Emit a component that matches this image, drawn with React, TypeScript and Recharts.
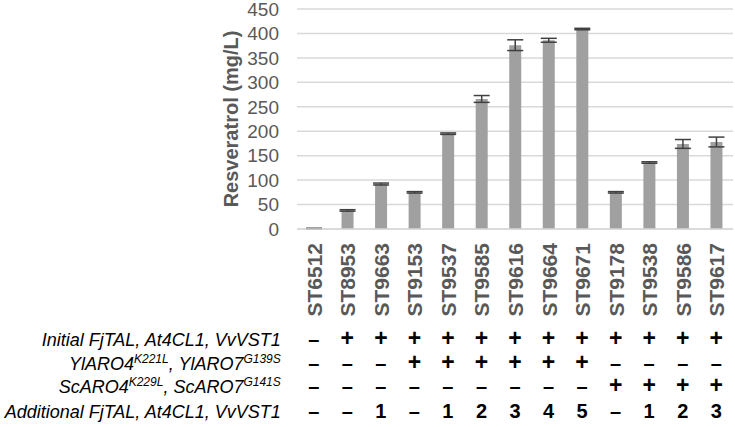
import React from 'react';
import { BarChart, Bar, XAxis, YAxis, CartesianGrid, ErrorBar, Label } from 'recharts';

document.body.style.margin = '0';

const strains = [
  'ST6512', 'ST8953', 'ST9663', 'ST9153', 'ST9537', 'ST9585', 'ST9616',
  'ST9664', 'ST9671', 'ST9178', 'ST9538', 'ST9586', 'ST9617'
];
const resveratrol = [1, 38, 92, 75, 195, 266, 376, 386, 409, 75, 136, 174, 178];
const errors = [0.5, 1.5, 2, 1.5, 1.5, 7, 11, 4, 1.5, 1.5, 1.5, 9, 10];

// table rows under the strains
const initialGenes = ['–', '+', '+', '+', '+', '+', '+', '+', '+', '+', '+', '+', '+'];
const ylAro = ['–', '–', '–', '+', '+', '+', '+', '+', '+', '–', '–', '–', '–'];
const scAro = ['–', '–', '–', '–', '–', '–', '–', '–', '–', '+', '+', '+', '+'];
const additionalGenes = ['–', '–', '1', '–', '1', '2', '3', '4', '5', '–', '1', '2', '3'];

const yTicks = [0, 50, 100, 150, 200, 250, 300, 350, 400, 450];

const chartData = strains.map((name, i) => ({
  name,
  value: resveratrol[i],
  err: errors[i],
}));

const FONT = 'Arial, "Liberation Sans", sans-serif';
const GRAY = '#595959';

const rows = [initialGenes, ylAro, scAro, additionalGenes];
const rowOffsets = [117, 141, 164, 189];

const RowLabels = ({ x, y }: { x: number; y: number }) => {
  const common = { x, textAnchor: 'end' as const, fontFamily: FONT, fontSize: 18, fontStyle: 'italic', fill: '#000' };
  return (
    <g>
      <text {...common} y={y + rowOffsets[0]}>Initial FjTAL, At4CL1, VvVST1</text>
      <text {...common} y={y + rowOffsets[1]}>
        <tspan>YlARO4</tspan>
        <tspan fontSize={12} dy={-7}>K221L</tspan>
        <tspan dy={7}>, YlARO7</tspan>
        <tspan fontSize={12} dy={-7}>G139S</tspan>
      </text>
      <text {...common} y={y + rowOffsets[2]}>
        <tspan>ScARO4</tspan>
        <tspan fontSize={12} dy={-7}>K229L</tspan>
        <tspan dy={7}>, ScARO7</tspan>
        <tspan fontSize={12} dy={-7}>G141S</tspan>
      </text>
      <text {...common} y={y + rowOffsets[3]}>Additional FjTAL, At4CL1, VvVST1</text>
    </g>
  );
};

const StrainTick = (props: any) => {
  const { x, y, payload, index } = props;
  const ax = x + 8;
  const ay = y + 14;
  return (
    <g>
      <text
        x={ax}
        y={ay}
        transform={`rotate(-90, ${ax}, ${ay})`}
        textAnchor="end"
        fontFamily={FONT}
        fontSize={21}
        fontWeight="bold"
        fill={GRAY}
      >
        {payload.value}
      </text>
      {rows.map((row, r) => (
        <text
          key={r}
          x={x}
          y={y + rowOffsets[r]}
          textAnchor="middle"
          fontFamily={FONT}
          fontSize={row[index] === '+' ? 23 : 20}
          fontWeight="bold"
          fill="#000"
        >
          {row[index]}
        </text>
      ))}
      {index === 0 && <RowLabels x={x - 33} y={y} />}
    </g>
  );
};

const YTitle = (props: any) => {
  const { viewBox } = props;
  const cy = viewBox.y + viewBox.height / 2;
  const cx = 238;
  return (
    <text
      x={cx}
      y={cy}
      transform={`rotate(-90, ${cx}, ${cy})`}
      textAnchor="middle"
      fontFamily={FONT}
      fontSize={20}
      fontWeight="bold"
      fill={GRAY}
    >
      Resveratrol (mg/L)
    </text>
  );
};

export default function App() {
  return (
    <BarChart
      width={735}
      height={427}
      data={chartData}
      margin={{ top: 9, right: 2, left: 0, bottom: 0 }}
      barCategoryGap={0}
    >
      <CartesianGrid vertical={false} stroke="#d9d9d9" strokeWidth={1.5} />
      <XAxis
        dataKey="name"
        height={198}
        interval={0}
        axisLine={{ stroke: '#d9d9d9', strokeWidth: 1.5 }}
        tickLine={false}
        tickSize={0}
        tickMargin={0}
        tick={<StrainTick />}
      />
      <YAxis
        width={297}
        domain={[0, 450]}
        ticks={yTicks}
        interval={0}
        axisLine={false}
        tickLine={false}
        tickMargin={12}
        tick={{ fill: GRAY, fontSize: 19, fontFamily: FONT }}
      >
        <Label content={<YTitle />} />
      </YAxis>
      <Bar dataKey="value" fill="#a0a0a0" barSize={12} isAnimationActive={false}>
        <ErrorBar dataKey="err" width={8} stroke="#404040" strokeWidth={1.5} />
      </Bar>
    </BarChart>
  );
}
